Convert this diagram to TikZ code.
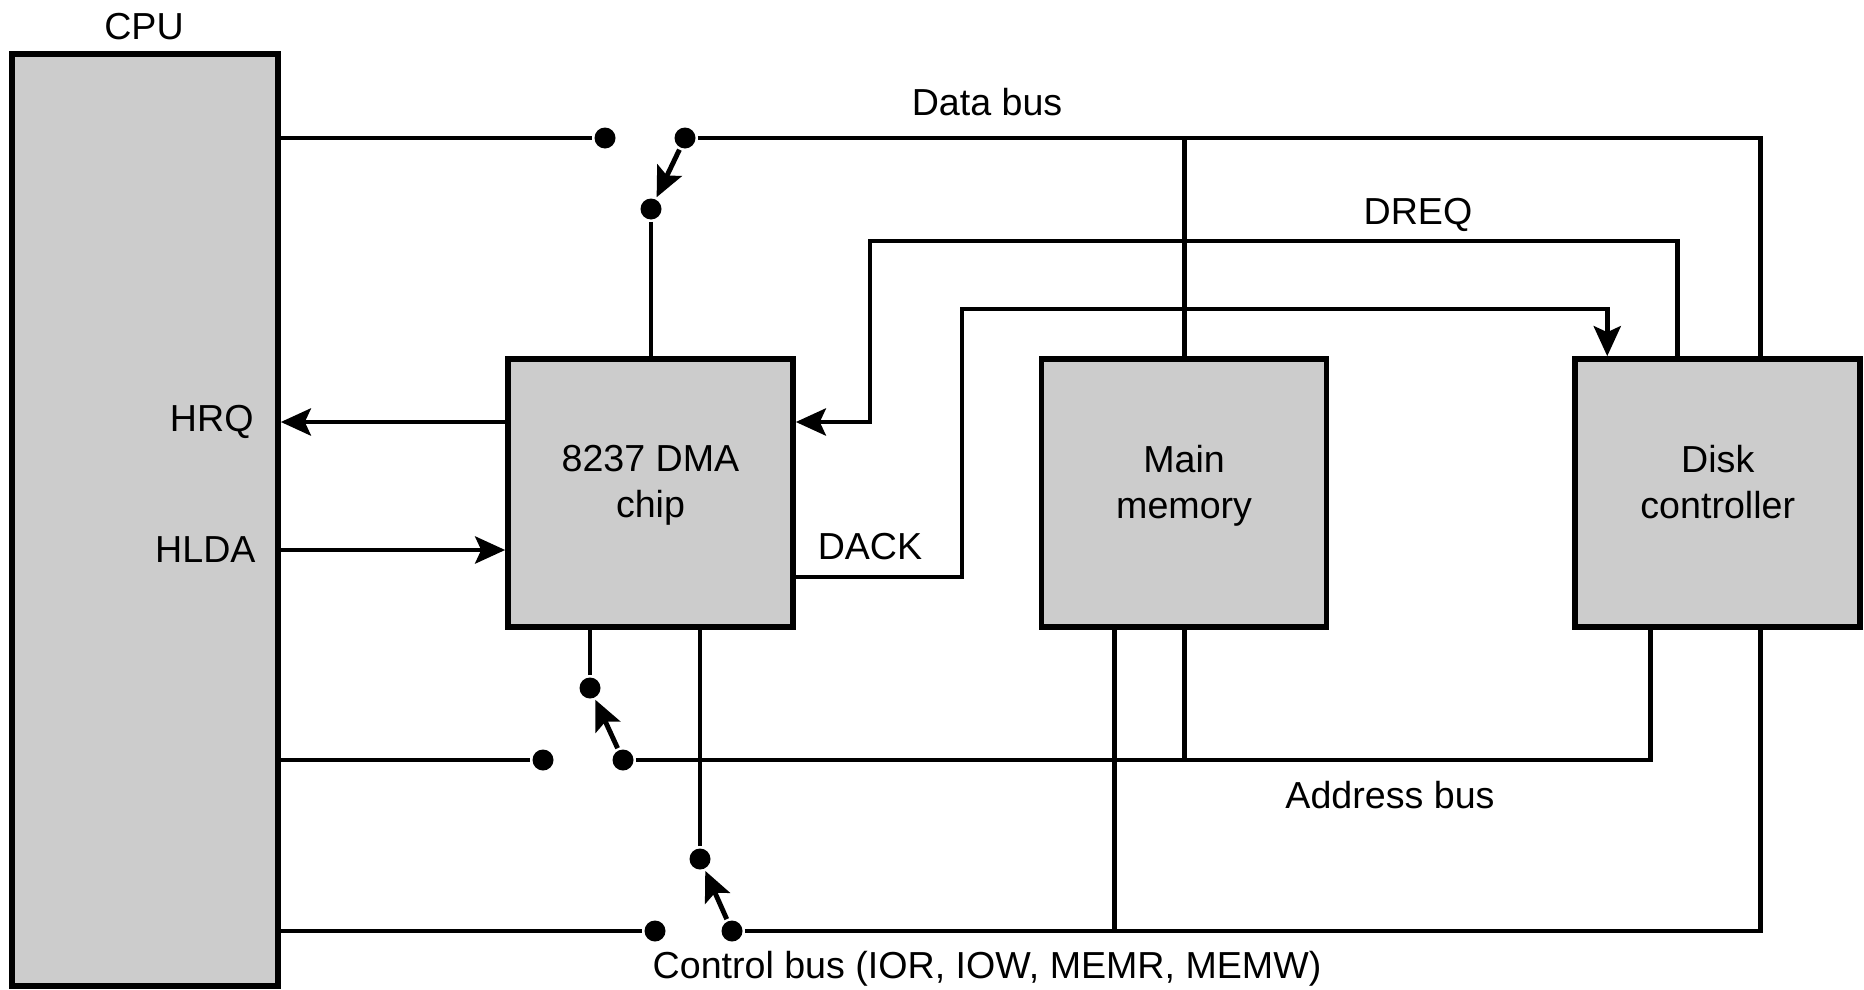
\documentclass[tikz,border=0pt]{standalone}
\usepackage{fontspec}
\setmainfont{Liberation Sans}
\usetikzlibrary{arrows.meta,positioning}
\definecolor{boxgray}{HTML}{CCCCCC}

\begin{document}
\begin{tikzpicture}[font=\fontsize{10.7}{13.1}\selectfont, line width=1.4pt,
    unit/.style={draw,line width=1.6pt,fill=boxgray,inner sep=0pt,
      minimum width=2.85cm,minimum height=2.68cm},
    contact/.style={circle,fill,inner sep=0pt,minimum size=2.1mm},
    signal/.style={-{Stealth[length=3mm,width=2.7mm,inset=0.6mm]}}]
  \useasboundingbox (0,0) rectangle (18.64,9.89);

  % the units
  \node[unit,minimum width=2.66cm,minimum height=9.32cm] (cpu) at (1.45,4.69) {};
  \node (cpulbl) at (1.44,9.62) {CPU};
  \node[unit,label={[align=center,yshift=0.77mm]center:8237 DMA\\chip}] (dma) at (6.505,4.96) {};
  \node[unit,right=2.43cm of dma,label={[align=center,yshift=0.77mm]center:Main\\memory}] (mem) {};
  \node[unit,right=2.43cm of mem,label={[align=center,yshift=1.07mm]center:Disk\\controller}] (disk) {};

  % switch contacts
  \node[contact] (dcpu) at (6.05,8.51) {};
  \node[contact] (dpiv) at (6.85,8.51) {};
  \node[contact] (ddma) at (6.51,7.80) {};
  \node[contact] (acpu) at (5.43,2.29) {};
  \node[contact] (apiv) at (6.23,2.29) {};
  \node[contact] (adma) at (5.90,3.01) {};
  \node[contact] (ccpu) at (6.55,0.58) {};
  \node[contact] (cpiv) at (7.32,0.58) {};
  \node[contact] (cdma) at (7.00,1.30) {};

  % data bus
  \draw (dcpu -| cpu.east) -- (dcpu);
  \draw (dpiv) -| ([xshift=4.25mm]disk.north);
  \draw (mem.north) -- (mem.north |- dpiv);
  \draw (ddma) -- (ddma |- dma.north);
  \draw[signal] (dpiv) -- (ddma);
  \node (databus) at (9.87,8.87) {Data bus};

  % DREQ and DACK
  \coordinate (dreq) at (8.70,7.48);
  \draw[signal] ([xshift=-4.05mm]disk.north) |- (dreq) |- ([yshift=7.1mm]dma.east);
  \node (dreqlbl) at (14.18,7.74) {DREQ};
  \coordinate (dack) at (9.62,6.80);
  \draw[signal] ([yshift=-8.4mm]dma.east) -| (dack) -| ([xshift=-11.05mm]disk.north);
  \node (dacklbl) at (8.70,4.42) {DACK};

  % HRQ and HLDA
  \coordinate (hrq) at ([yshift=7.1mm]dma.west);
  \coordinate (hlda) at ([yshift=-5.7mm]dma.west);
  \draw[signal] (hrq) -- (hrq -| cpu.east);
  \draw[signal] (hlda -| cpu.east) -- (hlda);
  \node[anchor=east,inner sep=0pt] (hrqlbl) at (2.56,5.67) {HRQ};
  \node[anchor=east,inner sep=0pt] (hldalbl) at (2.58,4.39) {HLDA};

  % address bus
  \draw (acpu -| cpu.east) -- (acpu);
  \draw (apiv) -| ([xshift=-6.75mm]disk.south);
  \draw (mem.south) -- (mem.south |- apiv);
  \draw (adma) -- (adma |- dma.south);
  \draw[signal] (apiv) -- (adma);
  \node (addrbus) at (13.90,1.94) {Address bus};

  % control bus
  \coordinate (mctl) at ([xshift=-6.95mm]mem.south);
  \draw (ccpu -| cpu.east) -- (ccpu);
  \draw (cpiv) -| ([xshift=4.25mm]disk.south);
  \draw (mctl) -- (mctl |- cpiv);
  \draw (cdma) -- (cdma |- dma.south);
  \draw[signal] (cpiv) -- (cdma);
  \node (ctrlbus) at (9.87,0.20) {Control bus (IOR, IOW, MEMR, MEMW)};
\end{tikzpicture}
\end{document}
